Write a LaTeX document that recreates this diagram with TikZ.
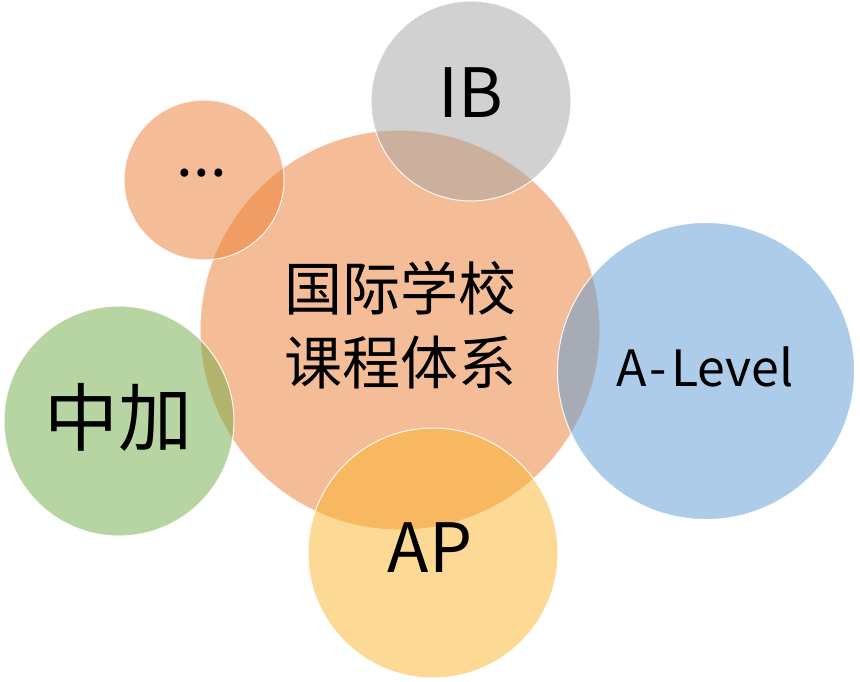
\documentclass[tikz,border=0pt]{standalone}
\usepackage{fontspec}
\setmainfont{Noto Sans CJK SC}
\definecolor{corange}{HTML}{ED7D31}
\definecolor{cgray}{HTML}{A5A5A5}
\definecolor{cyellow}{RGB}{250,180,45}
\definecolor{cblue}{HTML}{5B9BD5}
\definecolor{cgreen}{HTML}{70AD47}
\tikzset{
  bubble/.style={circle, inner sep=0pt, minimum size=#1, fill opacity=0.5, draw=white, draw opacity=0.9, line width=1pt},
  lbl/.style={inner sep=0pt, text=black, align=center}
}
\begin{document}
\begin{tikzpicture}[x=1pt,y=-1pt]
\useasboundingbox (0,0) rectangle (860,681);
\fill[white] (0,0) rectangle (860,681);
% circles (central first)
\node[bubble=400pt, fill=corange] (core) at (400,330) {};
\node[bubble=160pt, fill=corange] (more) at (204,180) {};
\node[bubble=200pt, fill=cgray] (ib) at (471,101) {};
\node[bubble=297pt, fill=cblue] (alevel) at (706,371) {};
\node[bubble=230pt, fill=cgreen] (zj) at (119,421) {};
\node[bubble=250pt, fill=cyellow] (ap) at (433,553) {};
% labels
\node[lbl, font=\fontsize{58}{74}\selectfont] (coretext) at (400,325) {国际学校\\课程体系};
\node[lbl, font=\fontsize{60}{60}\selectfont] (moretext) at (202,173) {...};
\node[lbl, font=\fontsize{68}{68}\selectfont] (ibtext) at (471,93) {IB};
\node[lbl, font=\fontsize{50}{50}\selectfont] (alevtext) at (705,367) {A\kern3pt-\kern4ptLevel};
\node[lbl, font=\fontsize{74}{74}\selectfont] (zjtext) at (119,417) {中加};
\node[lbl, font=\fontsize{68}{68}\selectfont] (aptext) at (430,548) {AP};
\end{tikzpicture}
\end{document}
